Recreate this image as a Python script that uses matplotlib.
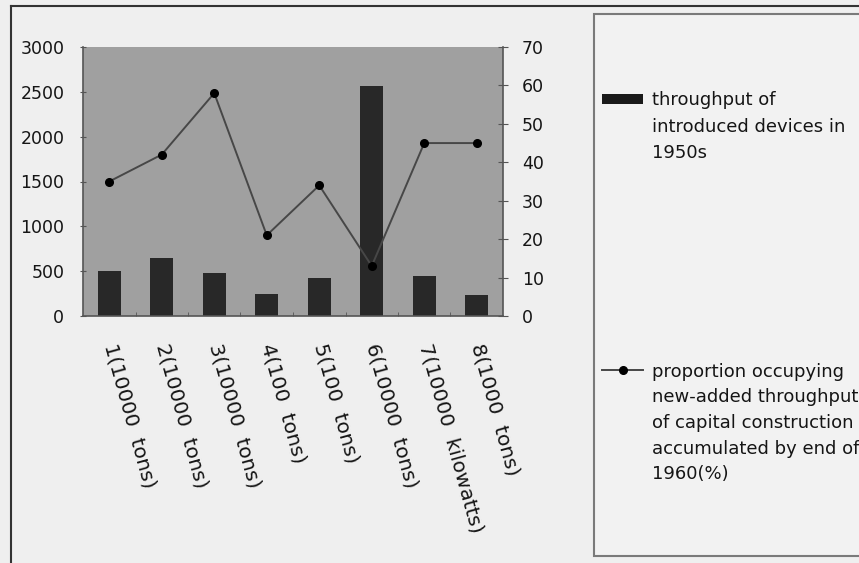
import matplotlib
matplotlib.use('Agg')
import matplotlib.pyplot as plt
from matplotlib.patches import Rectangle
from matplotlib.lines import Line2D

# ---- data ----
categories = ["1(10000  tons)", "2(10000  tons)", "3(10000  tons)", "4(100  tons)",
              "5(100  tons)", "6(10000  tons)", "7(10000  kilowatts)", "8(1000  tons)"]
throughput = [500, 650, 480, 250, 420, 2570, 450, 230]
proportion = [35, 42, 58, 21, 34, 13, 45, 45]
left_ticks = [0, 500, 1000, 1500, 2000, 2500, 3000]
right_ticks = [0, 10, 20, 30, 40, 50, 60, 70]
legend_bar_lines = ["throughput of", "introduced devices in", "1950s"]
legend_line_lines = ["proportion occupying", "new-added throughput",
                     "of capital construction", "accumulated by end of", "1960(%)"]

W, H = 859, 563
def fx(x):
    return x / W
def fy(y):
    return 1 - y / H

fig = plt.figure(figsize=(W / 100, H / 100), dpi=100, facecolor='#efefef')

# outer frame (top and left edges visible)
fig.add_artist(Line2D([fx(11), fx(11)], [fy(6), fy(600)], color='#333333', lw=1.5))
fig.add_artist(Line2D([fx(11), fx(900)], [fy(6), fy(6)], color='#333333', lw=1.5))

ax = fig.add_axes([fx(83), fy(316), fx(503) - fx(83), fy(47) - fy(316)])
ax.set_facecolor('#a0a0a0')
xs = list(range(len(categories)))
ax.bar(xs, throughput, width=0.44, color='#282828', zorder=2)
ax.set_xlim(-0.5, len(categories) - 0.5)
ax.set_ylim(0, 3000)
ax.set_yticks(left_ticks)
ax.set_xticks(xs)
ax.set_xticklabels(categories, rotation=-74.5, ha='left', va='center',
                   rotation_mode='anchor', fontsize=14.5, color='#151515')
ax.set_xticks([i + 0.5 for i in range(len(categories) - 1)], minor=True)
ax.tick_params(axis='x', which='major', length=0, pad=20)
ax.tick_params(axis='x', which='minor', direction='in', length=3, color='#555555')
ax.tick_params(axis='y', direction='inout', length=5, pad=11, labelsize=12.5,
               color='#555555', labelcolor='#151515')
for s in ['top', 'right']:
    ax.spines[s].set_visible(False)
for s in ['left', 'bottom']:
    ax.spines[s].set_color('#555555')
    ax.spines[s].set_linewidth(1.2)

ax2 = ax.twinx()
ax2.plot(xs, proportion, color='#474747', lw=1.4, marker='o', ms=5.5,
         mfc='black', mec='black', zorder=3)
ax2.set_ylim(0, 70)
ax2.set_yticks(right_ticks)
ax2.tick_params(axis='y', direction='inout', length=7, pad=10, labelsize=12.5,
                color='#555555', labelcolor='#151515')
for s in ['top', 'left', 'bottom']:
    ax2.spines[s].set_visible(False)
ax2.spines['right'].set_color('#555555')
ax2.spines['right'].set_linewidth(1.2)

# legend box
fig.add_artist(Rectangle((fx(594), fy(556)), fx(900) - fx(594), fy(14) - fy(556),
                         transform=fig.transFigure, facecolor='#f2f2f2',
                         edgecolor='#7a7a7a', lw=1.5))
fig.add_artist(Rectangle((fx(602), fy(104)), fx(643) - fx(602), fy(94) - fy(104),
                         transform=fig.transFigure, facecolor='#1a1a1a', edgecolor='none'))
fig.add_artist(Line2D([fx(602), fx(643)], [fy(370), fy(370)], color='#474747', lw=1.4))
fig.add_artist(Line2D([fx(623)], [fy(370)], marker='o', ms=5.5, color='black'))

for i, line in enumerate(legend_bar_lines):
    fig.text(fx(652), fy(105 + 26.5 * i), line, fontsize=13, va='baseline',
             ha='left', color='#151515')
for i, line in enumerate(legend_line_lines):
    fig.text(fx(652), fy(377 + 25.5 * i), line, fontsize=13, va='baseline',
             ha='left', color='#151515')

fig.savefig('out.png', dpi=100, facecolor=fig.get_facecolor())
